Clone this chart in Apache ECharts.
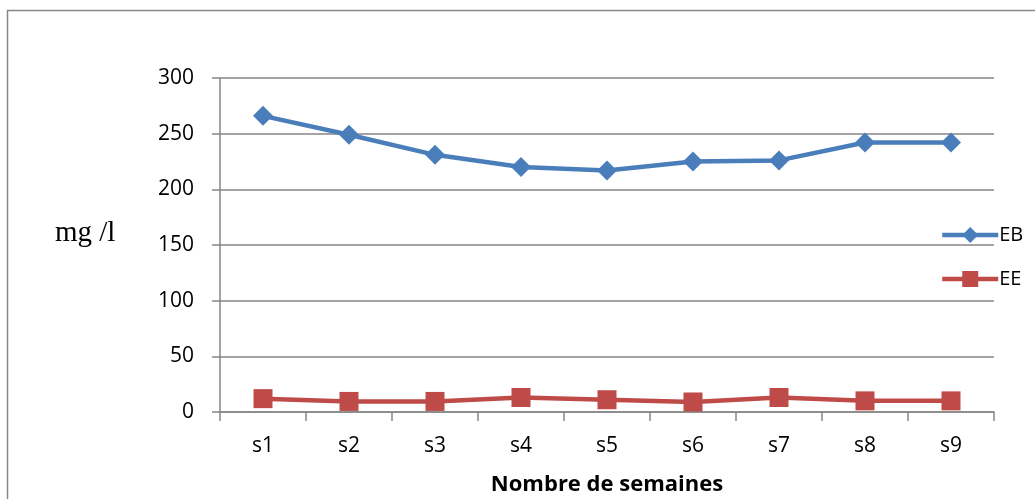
<!DOCTYPE html>
<html>
<head>
<meta charset="utf-8">
<script src="https://cdn.jsdelivr.net/npm/echarts@6/dist/echarts.min.js"></script>
<style>
  html, body { margin: 0; padding: 0; background: #fff; }
  #chart { width: 1035px; height: 499px; }
</style>
</head>
<body>
<div id="chart"></div>
<script>
// Weekly concentrations (mg/l)
const weeks = ['s1', 's2', 's3', 's4', 's5', 's6', 's7', 's8', 's9'];
const ebValues = [266, 249, 231, 220, 217, 225, 226, 242, 242];
const eeValues = [12, 9.5, 9.5, 13, 11, 9, 13, 10, 10];
const yTicks = [0, 50, 100, 150, 200, 250, 300];

const axisGrey = '#868686';
const labelFont = '"Open Sans", "Liberation Sans", Arial, sans-serif';

const chart = echarts.init(document.getElementById('chart'));
chart.setOption({
  backgroundColor: '#fff',
  animation: false,
  graphic: [{
    type: 'rect',
    shape: { x: 7.5, y: 10.5, width: 1200, height: 700 },
    style: { fill: 'none', stroke: axisGrey, lineWidth: 1.5 },
    silent: true
  }, {
    type: 'text',
    left: 55, top: 219,
    style: { text: 'mg /l', font: '29px "Liberation Serif", "Times New Roman", serif', fill: '#000' }
  }],
  grid: { left: 220, right: 41, top: 78, bottom: 87, containLabel: false, outerBoundsMode: 'none' },
  legend: {
    orient: 'vertical',
    left: 935,
    top: 220,
    itemGap: 24,
    itemWidth: 56,
    itemHeight: 20,
    lineStyle: { width: 4.5 },
    textStyle: { fontFamily: labelFont, fontSize: 20, color: '#000', padding: [0, 0, 0, -4] },
    data: ['EB', 'EE']
  },
  xAxis: {
    type: 'category',
    data: weeks,
    boundaryGap: true,
    name: 'Nombre de semaines',
    nameLocation: 'middle',
    nameGap: 62,
    nameTextStyle: { fontFamily: labelFont, fontSize: 22, fontWeight: 'bold', color: '#000' },
    axisLine: { lineStyle: { color: axisGrey, width: 1.5 } },
    axisTick: { show: true, length: 9, alignWithLabel: false, lineStyle: { color: axisGrey, width: 1.5 } },
    axisLabel: { fontFamily: labelFont, fontSize: 21, color: '#000', margin: 24 }
  },
  yAxis: {
    type: 'value',
    min: yTicks[0],
    max: yTicks[yTicks.length - 1],
    interval: 50,
    axisLine: { show: true, lineStyle: { color: axisGrey, width: 1.5 } },
    axisTick: { show: true, inside: false, length: 8, lineStyle: { color: axisGrey, width: 1.5 } },
    axisLabel: { fontFamily: labelFont, fontSize: 21, color: '#000', margin: 26 },
    splitLine: { show: true, lineStyle: { color: axisGrey, width: 1.5 } }
  },
  series: [{
    name: 'EB',
    type: 'line',
    data: ebValues,
    symbol: 'diamond',
    symbolSize: 20,
    color: '#4a7ebb',
    lineStyle: { width: 4.5, color: '#4a7ebb' },
    itemStyle: { color: '#4a7ebb' }
  }, {
    name: 'EE',
    type: 'line',
    data: eeValues,
    symbol: 'rect',
    symbolSize: 19,
    color: '#be4b48',
    lineStyle: { width: 4.5, color: '#be4b48' },
    itemStyle: { color: '#be4b48' }
  }]
});
</script>
</body>
</html>
